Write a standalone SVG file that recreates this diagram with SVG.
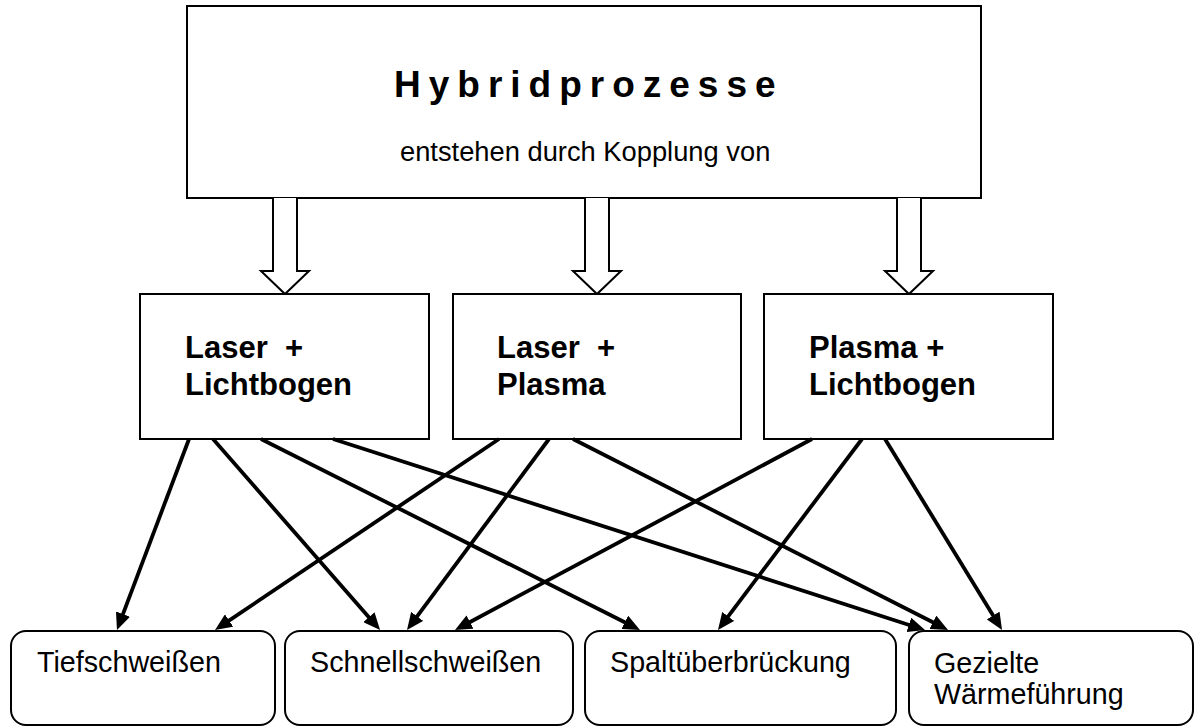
<svg xmlns="http://www.w3.org/2000/svg" width="1195" height="726" viewBox="0 0 1195 726">
<style>
.box{fill:#fff;stroke:#000;stroke-width:2}
.rbox{fill:#fff;stroke:#000;stroke-width:2}
.hollow{fill:#fff;stroke:#000;stroke-width:2;stroke-linejoin:miter}
.t{font-family:"Liberation Sans",Arial,sans-serif;fill:#000}
.title{font-size:37px;font-weight:bold;letter-spacing:8px}
.sub{font-size:27.3px}
.mid{font-size:31px;font-weight:bold;white-space:pre}
.bot{font-size:28.7px}
.conn{stroke:#000;stroke-width:3.8;fill:none}
</style>
<defs>
<marker id="ah" markerUnits="userSpaceOnUse" markerWidth="17" markerHeight="15" refX="11" refY="7.5" orient="auto">
<path d="M0,0 L17,7.5 L0,15 z" fill="#000"/>
</marker>
</defs>
<rect width="1195" height="726" fill="#fff"/>
<g id="hybrid">
<rect class="box" x="187" y="6" width="794" height="192"/>
<text class="t title" x="394" y="97">Hybridprozesse</text>
<text class="t sub" x="400" y="161">entstehen durch Kopplung von</text>
</g>
<g id="hollow-arrows">
<path class="hollow" d="M273,198 L273,271 L261,271 L285,294 L309,271 L297,271 L297,198"/>
<path class="hollow" d="M585,198 L585,271 L573,271 L597,294 L621,271 L609,271 L609,198"/>
<path class="hollow" d="M897,198 L897,271 L885,271 L909,294 L933,271 L921,271 L921,198"/>
</g>
<g id="laser-lichtbogen">
<rect class="box" x="140" y="294" width="289" height="145"/>
<text class="t mid" x="185" y="358">Laser  +</text>
<text class="t mid" x="185" y="395">Lichtbogen</text>
</g>
<g id="laser-plasma">
<rect class="box" x="453" y="294" width="288" height="145"/>
<text class="t mid" x="497" y="358">Laser  +</text>
<text class="t mid" x="497" y="395">Plasma</text>
</g>
<g id="plasma-lichtbogen">
<rect class="box" x="764" y="294" width="289" height="145"/>
<text class="t mid" x="809" y="358">Plasma +</text>
<text class="t mid" x="809" y="395">Lichtbogen</text>
</g>
<g id="connectors">
<line class="conn" x1="189" y1="439" x2="119.1" y2="624.4" marker-end="url(#ah)"/>
<line class="conn" x1="213" y1="439" x2="376.1" y2="625.5" marker-end="url(#ah)"/>
<line class="conn" x1="261" y1="439" x2="634.6" y2="627.3" marker-end="url(#ah)"/>
<line class="conn" x1="333" y1="439" x2="919.3" y2="628.2" marker-end="url(#ah)"/>
<line class="conn" x1="499" y1="439" x2="220.0" y2="626.7" marker-end="url(#ah)"/>
<line class="conn" x1="549" y1="439" x2="410.6" y2="625.2" marker-end="url(#ah)"/>
<line class="conn" x1="573" y1="439" x2="942.7" y2="627.3" marker-end="url(#ah)"/>
<line class="conn" x1="812" y1="439" x2="460.3" y2="627.2" marker-end="url(#ah)"/>
<line class="conn" x1="862" y1="439" x2="721.6" y2="625.2" marker-end="url(#ah)"/>
<line class="conn" x1="885" y1="439" x2="998.9" y2="624.9" marker-end="url(#ah)"/>
</g>
<g id="tiefschweissen">
<rect class="rbox" x="11" y="631" width="264" height="94" rx="15" ry="15"/>
<text class="t bot" x="37" y="672">Tiefschweißen</text>
</g>
<g id="schnellschweissen">
<rect class="rbox" x="285" y="631" width="288" height="94" rx="15" ry="15"/>
<text class="t bot" x="310" y="672">Schnellschweißen</text>
</g>
<g id="spaltueberbrueckung">
<rect class="rbox" x="585" y="631" width="311" height="94" rx="15" ry="15"/>
<text class="t bot" x="610" y="672">Spaltüberbrückung</text>
</g>
<g id="waermefuehrung">
<rect class="rbox" x="909" y="631" width="284" height="94" rx="15" ry="15"/>
<text class="t bot" x="934" y="673">Gezielte</text>
<text class="t bot" x="934" y="704">Wärmeführung</text>
</g>
</svg>
